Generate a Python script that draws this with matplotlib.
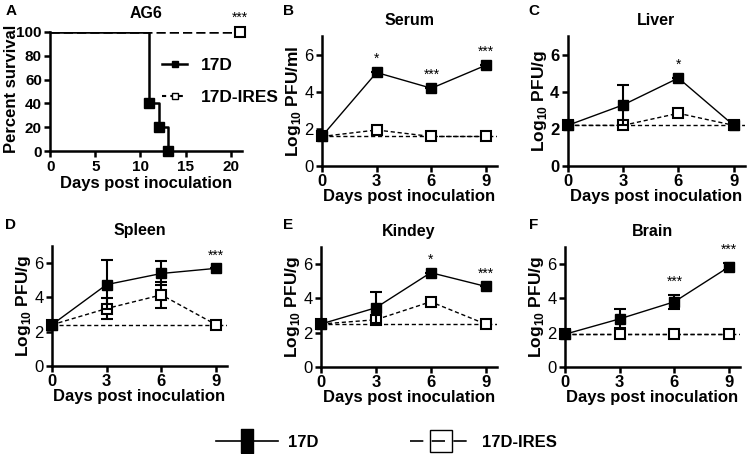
import numpy as np
import matplotlib.pyplot as plt
from matplotlib.lines import Line2D

plt.rcParams['font.family'] = ['Liberation Sans', 'DejaVu Sans']
plt.rcParams['font.weight'] = 'bold'
plt.rcParams['mathtext.fontset'] = 'custom'
plt.rcParams['mathtext.rm'] = 'Liberation Sans:bold'
plt.rcParams['mathtext.bf'] = 'Liberation Sans:bold'

# survival (panel A)
surv_days = [0, 11, 12, 13]
surv_17d = [100, 40, 20, 0]
surv_ires_days = [0, 21]
surv_ires = [100, 100]

# viral titers (panels B-F)
days = [0, 3, 6, 9]
organs = ['Serum', 'Liver', 'Spleen', 'Kindey', 'Brain']
units = ['PFU/ml', 'PFU/g', 'PFU/g', 'PFU/g', 'PFU/g']
limits = [1.6, 2.2, 2.4, 2.5, 1.9]
v17d = [[1.6, 5.05, 4.2, 5.45],
        [2.2, 3.3, 4.75, 2.2],
        [2.4, 4.75, 5.4, 5.7],
        [2.5, 3.45, 5.5, 4.7],
        [1.9, 2.8, 3.8, 5.85]]
e17d = [[0, 0, 0, 0],
        [0, 1.1, 0, 0],
        [0, 1.45, 0.7, 0],
        [0, 0.9, 0, 0],
        [0, 0.55, 0.4, 0.2]]
vires = [[1.6, 1.95, 1.6, 1.6],
         [2.2, 2.2, 2.85, 2.2],
         [2.4, 3.35, 4.15, 2.4],
         [2.5, 2.75, 3.8, 2.5],
         [1.9, 1.9, 1.9, 1.9]]
eires = [[0, 0.15, 0, 0],
         [0, 0, 0, 0],
         [0, 0.6, 0.75, 0],
         [0, 0, 0.2, 0],
         [0, 0, 0, 0]]
stars = [[(3, '*'), (6, '***'), (9, '***')],
         [(6, '*')],
         [(9, '***')],
         [(6, '*'), (9, '***')],
         [(6, '***'), (9, '***')]]

fig = plt.figure(figsize=(7.5, 4.54), dpi=100)

def style(ax, bold_y=True, size=12):
    for s in ['top', 'right']:
        ax.spines[s].set_visible(False)
    for s in ['left', 'bottom']:
        ax.spines[s].set_linewidth(1.8)
    ax.tick_params(width=1.8, length=4, labelsize=size, pad=2)
    for t in ax.get_xticklabels():
        t.set_fontweight('bold')
    for t in ax.get_yticklabels():
        t.set_fontweight('bold' if bold_y else 'normal')

# panel A
axA = fig.add_axes([0.067, 0.667, 0.255, 0.263])
axA.step(surv_days, surv_17d, where='post', color='black', lw=1.8)
axA.plot(surv_days[1:], surv_17d[1:], 's', color='black', ms=7, clip_on=False)
axA.plot(surv_ires_days, surv_ires, '--', color='black', lw=1.8)
axA.plot(surv_ires_days[1:], surv_ires[1:], 's', mfc='white', mec='black',
         mew=1.5, ms=7, clip_on=False, zorder=5)
axA.set_xlim(0, 21.2)
axA.set_ylim(0, 100)
axA.set_xticks([0, 5, 10, 15, 20])
axA.set_yticks([0, 20, 40, 60, 80, 100])
axA.set_xlabel('Days post inoculation', fontsize=12, fontweight='bold', labelpad=2)
axA.set_ylabel('Percent survival', fontsize=12, fontweight='bold')
axA.yaxis.set_label_coords(-0.165, 0.52)
axA.set_title('AG6', fontsize=11.5, fontweight='bold', pad=10)
axA.text(21, 106, '***', ha='center', va='bottom', fontsize=10, fontweight='normal')
la = [Line2D([], [], color='black', lw=1.8, marker='s', ms=5),
      Line2D([], [], color='black', lw=1.5, ls='--', dashes=(2, 2), marker='s', ms=5,
             mfc='white', mec='black')]
axA.legend(la, ['17D', '17D-IRES'], loc='upper left', bbox_to_anchor=(0.55, 0.84),
           frameon=False, fontsize=12.5, handlelength=1.4, handletextpad=0.8,
           labelspacing=1.0, borderaxespad=0)
style(axA, size=11)

# panels B-F
pos = [[0.429, 0.634, 0.234, 0.286],
       [0.757, 0.634, 0.236, 0.286],
       [0.069, 0.194, 0.234, 0.264],
       [0.428, 0.192, 0.234, 0.264],
       [0.753, 0.192, 0.234, 0.264]]
bold_y = [False, True, False, False, False]
for i in range(5):
    ax = fig.add_axes(pos[i])
    ax.axhline(limits[i], color='black', ls='--', lw=1, dashes=(3, 2))
    ax.errorbar(days, vires[i], yerr=eires[i], color='black', ls='--', lw=1,
                dashes=(3, 2), marker='s', ms=7, mfc='white', mec='black', mew=1.5,
                capsize=4, elinewidth=1.5, capthick=1.5, clip_on=False, zorder=3)
    ax.errorbar(days, v17d[i], yerr=e17d[i], color='black', lw=1, marker='s',
                ms=7, capsize=4, elinewidth=1.5, capthick=1.5, clip_on=False, zorder=4)
    for x, s in stars[i]:
        j = days.index(x)
        ax.text(x, v17d[i][j] + e17d[i][j] + 0.35, s, ha='center', va='bottom',
                fontsize=10, fontweight='normal')
    ax.set_xlim(0, 9.6)
    ax.set_ylim(0, 7)
    ax.set_xticks(days)
    ax.set_yticks([0, 2, 4, 6])
    ax.set_xlabel('Days post inoculation', fontsize=12, fontweight='bold', labelpad=0)
    ax.set_ylabel('Log$_{10}$ ' + units[i], fontsize=12.5, fontweight='bold', labelpad=1)
    ax.set_title(organs[i], fontsize=11.5, fontweight='bold', pad=8)
    style(ax, bold_y[i])

# panel letters
letters = ['A', 'B', 'C', 'D', 'E', 'F']
lpos = [(0.007, 0.975), (0.377, 0.975), (0.705, 0.975),
        (0.007, 0.505), (0.377, 0.505), (0.705, 0.505)]
for l, (x, y) in zip(letters, lpos):
    fig.text(x, y, l, fontsize=11, fontweight='bold', ha='left', va='center')

# bottom legend (tall box symbols)
tall = [(-0.55, -1), (0.55, -1), (0.55, 1), (-0.55, 1), (-0.55, -1)]
lb = [Line2D([], [], color='black', lw=1.2, marker=tall, ms=17),
      Line2D([], [], color='black', lw=1.2, ls='--', dashes=(8, 5), marker='s',
             ms=16, mfc='none', mec='black', mew=1)]
fig.legend(lb, ['17D', '17D-IRES'], loc='center', bbox_to_anchor=(0.515, 0.025),
           ncol=2, frameon=False, fontsize=12, handlelength=3.7,
           handletextpad=0.6, columnspacing=5.5)

fig.savefig('out.png', dpi=100)
